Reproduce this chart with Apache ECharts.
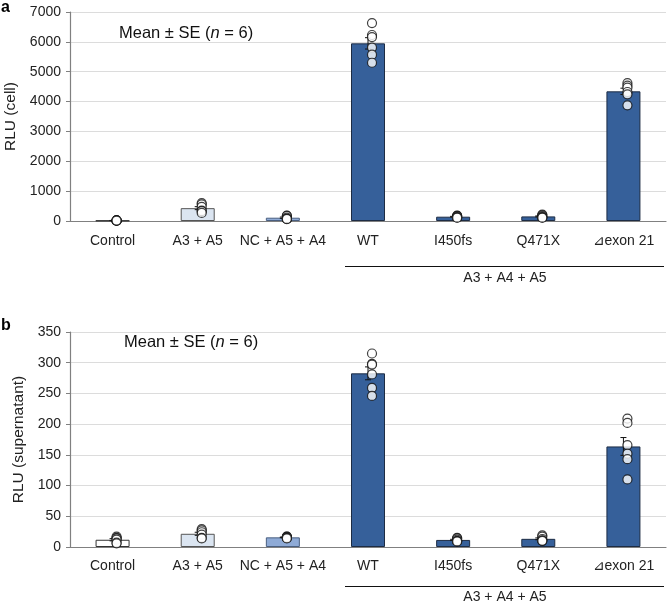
<!DOCTYPE html>
<html>
<head>
<meta charset="utf-8">
<script src="https://cdn.jsdelivr.net/npm/echarts@6/dist/echarts.min.js"></script>
<style>html,body{margin:0;padding:0;background:#fff}#c{width:667px;height:605px}</style>
</head>
<body>
<div id="c"></div>
<script>
// ---- data ----
var categories = ['Control', 'A3 + A5', 'NC + A5 + A4', 'WT', 'I450fs', 'Q471X', '\u22bfexon 21'];
var groupLabel = 'A3 + A4 + A5';
var yTicksA = [0, 1000, 2000, 3000, 4000, 5000, 6000, 7000];
var yTicksB = [0, 50, 100, 150, 200, 250, 300, 350];

// panel a: RLU (cell)
var meanA = [15, 430, 110, 5950, 144, 154, 4343];
var seA   = [3, 50, 22, 190, 12, 16, 105];
var pointsA = [
  [20, 15, 12, 18, 10, 15],
  [600, 560, 470, 350, 330, 270],
  [180, 170, 110, 70, 60, 70],
  [6630, 6230, 6160, 5810, 5570, 5300],
  [180, 175, 160, 130, 110, 110],
  [215, 200, 160, 130, 110, 110],
  [4620, 4535, 4466, 4320, 4243, 3874]
];
// panel b: RLU (supernatant)
var meanB = [11.8, 21.5, 15.7, 282.7, 11.5, 13.3, 163.7];
var seB   = [1.8, 2.5, 0.5, 10.5, 1.0, 1.5, 14.5];
var pointsB = [
  [17, 15, 14, 12, 7, 6],
  [29, 27, 24, 20, 15, 14],
  [17, 17, 16, 15, 15, 14],
  [315, 298, 297, 281, 259, 246],
  [15, 14, 12, 10, 9, 9],
  [19, 17, 13, 11, 10, 10],
  [209, 202, 166, 152, 143, 110]
];
var barColors = ['#ffffff', '#dbe5f1', '#8eaad6', '#36609a', '#36609a', '#36609a', '#36609a'];
var barBorders = ['#333333', '#555555', '#4a5f80', '#1d2c44', '#1d2c44', '#1d2c44', '#1d2c44'];

// ---- build ----
var FONT = '"Liberation Sans", Arial, sans-serif';
function barData(means) {
  return means.map(function (v, i) {
    return { value: v, itemStyle: { color: barColors[i], borderColor: barBorders[i], borderWidth: 1 } };
  });
}
function errData(means, ses) {
  return means.map(function (m, i) { return [i, m - ses[i], m + ses[i]]; });
}
function ptData(points) {
  var out = [];
  points.forEach(function (arr, i) { arr.forEach(function (v) { out.push([i, v]); }); });
  return out;
}
function renderErr(params, api) {
  var x = api.value(0);
  var lo = api.coord([x, api.value(1)]);
  var hi = api.coord([x, api.value(2)]);
  var cx = lo[0], w = 3;
  var st = { stroke: '#111', lineWidth: 1 };
  return { type: 'group', children: [
    { type: 'line', shape: { x1: cx, y1: lo[1], x2: cx, y2: hi[1] }, style: st },
    { type: 'line', shape: { x1: cx - w, y1: lo[1], x2: cx + w, y2: lo[1] }, style: st },
    { type: 'line', shape: { x1: cx - w, y1: hi[1], x2: cx + w, y2: hi[1] }, style: st }
  ]};
}
function xAx(idx, margin) {
  return {
    type: 'category', gridIndex: idx, data: categories,
    axisLine: { lineStyle: { color: '#808080', width: 1.2 } },
    axisTick: { length: 5, lineStyle: { color: '#808080' } },
    axisLabel: { color: '#222', fontSize: 14, fontFamily: FONT, margin: margin, interval: 0 }
  };
}
function yAx(idx, ticks, name, gap) {
  return {
    type: 'value', gridIndex: idx, min: ticks[0], max: ticks[ticks.length - 1], interval: ticks[1] - ticks[0],
    name: name, nameLocation: 'middle', nameGap: gap,
    nameTextStyle: { color: '#222', fontSize: 15.5, fontFamily: FONT },
    axisLine: { show: true, lineStyle: { color: '#808080', width: 1.2 } },
    axisTick: { show: true, length: 4, lineStyle: { color: '#808080' } },
    splitLine: { lineStyle: { color: '#dcdcdc', width: 1 } },
    axisLabel: { color: '#222', fontSize: 14, fontFamily: FONT, margin: 9, formatter: function (v) { return String(v); } }
  };
}
var ptStyle = { color: '#ffffff', borderColor: '#111', borderWidth: 1.2 };
var meanRich = {
  r: { fontSize: 16.5, fontFamily: FONT, fill: '#111' },
  i: { fontSize: 16.5, fontFamily: FONT, fontStyle: 'italic', fill: '#111' }
};
var option = {
  animation: false,
  backgroundColor: '#ffffff',
  grid: [
    { left: 70, top: 12, width: 596, height: 209, containLabel: false, outerBoundsMode: 'none' },
    { left: 70, top: 332, width: 596, height: 215, containLabel: false, outerBoundsMode: 'none' }
  ],
  xAxis: [xAx(0, 13), xAx(1, 12)],
  yAxis: [yAx(0, yTicksA, 'RLU (cell)', 51), yAx(1, yTicksB, 'RLU (supernatant)', 42)],
  series: [
    { type: 'bar', xAxisIndex: 0, yAxisIndex: 0, data: barData(meanA), barWidth: 34, z: 2 },
    { type: 'custom', xAxisIndex: 0, yAxisIndex: 0, data: errData(meanA, seA), renderItem: renderErr, z: 3 },
    { type: 'scatter', xAxisIndex: 0, yAxisIndex: 0, data: ptData(pointsA), symbolSize: 9, symbolOffset: [4, 0], itemStyle: ptStyle, z: 4 },
    { type: 'bar', xAxisIndex: 1, yAxisIndex: 1, data: barData(meanB), barWidth: 34, z: 2 },
    { type: 'custom', xAxisIndex: 1, yAxisIndex: 1, data: errData(meanB, seB), renderItem: renderErr, z: 3 },
    { type: 'scatter', xAxisIndex: 1, yAxisIndex: 1, data: ptData(pointsB), symbolSize: 9, symbolOffset: [4, 0], itemStyle: ptStyle, z: 4 }
  ],
  graphic: [
    { type: 'text', left: 1, top: 0, style: { text: 'a', font: 'bold 16px ' + FONT, fill: '#000' } },
    { type: 'text', left: 1, top: 318, style: { text: 'b', font: 'bold 16px ' + FONT, fill: '#000' } },
    { type: 'text', left: 119, top: 25, style: { text: '{r|Mean \u00b1 SE (}{i|n}{r| = 6)}', rich: meanRich } },
    { type: 'text', left: 124, top: 334, style: { text: '{r|Mean \u00b1 SE (}{i|n}{r| = 6)}', rich: meanRich } },
    { type: 'line', shape: { x1: 345, y1: 266.5, x2: 664, y2: 266.5 }, style: { stroke: '#111', lineWidth: 1 } },
    { type: 'text', x: 505, y: 278, style: { text: groupLabel, font: '14px ' + FONT, fill: '#222', textAlign: 'center', textVerticalAlign: 'middle' } },
    { type: 'line', shape: { x1: 345, y1: 586.5, x2: 664, y2: 586.5 }, style: { stroke: '#111', lineWidth: 1 } },
    { type: 'text', x: 505, y: 597, style: { text: groupLabel, font: '14px ' + FONT, fill: '#222', textAlign: 'center', textVerticalAlign: 'middle' } }
  ]
};
var chart = echarts.init(document.getElementById('c'), null, { renderer: 'canvas' });
chart.setOption(option);
</script>
</body>
</html>
